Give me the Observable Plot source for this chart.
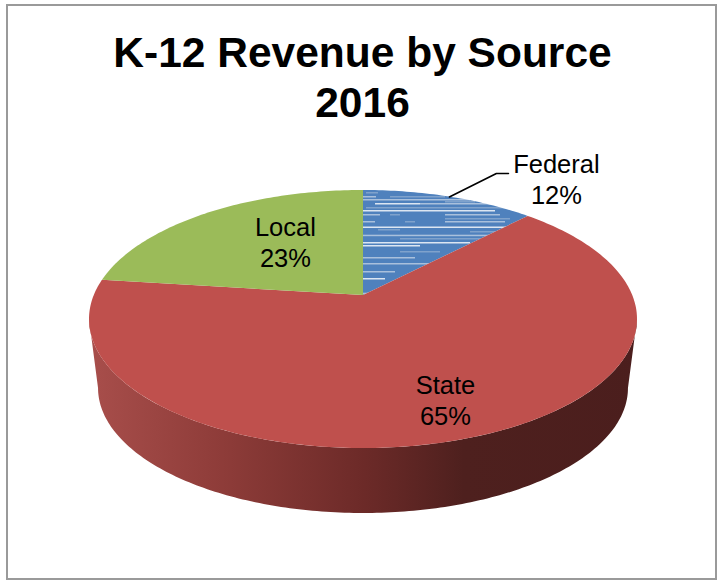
<!DOCTYPE html>
<html>
<head>
<meta charset="utf-8">
<script src="https://cdn.jsdelivr.net/npm/d3@7"></script>
<script src="https://cdn.jsdelivr.net/npm/@observablehq/plot@0.6"></script>
<style>
  html, body { margin: 0; padding: 0; background: #fff; }
  #frame { position: relative; width: 718px; height: 582px; overflow: hidden; font-family: "Liberation Sans", Arial, sans-serif; }
  #box { position: absolute; left: 6px; top: 4px; width: 707px; height: 572px; border: 2px solid #9a9a9a; pointer-events: none; }
  #title { height: 140px; box-sizing: border-box; padding-top: 28px; padding-left: 7px; text-align: center; font-weight: 700; font-size: 42.5px; line-height: 50px; color: #000; }
  #chart svg { display: block; overflow: visible; }
</style>
</head>
<body>
<div id="frame">
  <div id="title">K-12 Revenue by Source<br>2016</div>
  <div id="chart"></div>
  <div id="box"></div>
</div>
<script>
// Data
const sources = ["Federal", "State", "Local"];
const shares = [12.2, 64.8, 23];
const fills = ["url(#streaks)", "#BF504D", "#9BBB59"];

// Layout (unit ellipse coordinates)
const tilt = 0.186;          // perspective shift of the pie's apex
const wall = {rx: 0.967, ry: 0.969, dy: -0.535};
const labelAt = {Federal: [0.704, 1.093], State: [0.299, -0.62], Local: [-0.285, 0.605]};
const leaderElbows = [[0.485, 1.132], [0.529, 1.132]];

const toRad = (deg) => (deg * Math.PI) / 180;
// Perspective projection of the unit circle point at a clockwise angle from the top
function rim(deg) {
  const X = Math.sin(toRad(deg)), Y = Math.cos(toRad(deg)), w = 1 + tilt * Y;
  return [(X * Math.sqrt(1 - tilt * tilt)) / w, (Y + tilt) / w];
}

const total = d3.sum(shares);
const cumulative = d3.cumsum(shares);
const slices = sources.map((name, i) => {
  const a0 = ((cumulative[i] - shares[i]) / total) * 360;
  const a1 = (cumulative[i] / total) * 360;
  const steps = [...d3.range(a0, a1, 1), a1];
  return {
    name, share: shares[i], fill: fills[i], mid: (a0 + a1) / 2,
    rows: steps.map((a) => { const [x2, y2] = rim(a); return {x1: 0, y1: tilt, x2, y2}; })
  };
});

const wallRows = d3.range(-90, 90.5, 1).map((a) => ({
  x1: Math.sin(toRad(a)), y1: -Math.cos(toRad(a)),
  x2: wall.rx * Math.sin(toRad(a)), y2: wall.dy - wall.ry * Math.cos(toRad(a))
}));

const labels = slices.map((s) => ({text: `${s.name}\n${Math.round(s.share)}%`, x: labelAt[s.name][0], y: labelAt[s.name][1]}));
const federal = slices[0];
const leader = [rim(federal.mid), ...leaderElbows].map(([x, y]) => ({x, y}));

// Paint servers used by the marks: the wall shading and the streaked blue texture
const L = "#DCE6F2", M = "#A9C0DC", D = "#7FA2CC";
const streakTexture = [
  [52,366,378,D],[56,363,376,M],[56,390,445,D],[59,363,470,M],[61,445,475,D],[63,375,420,L],[63,420,490,M],
  [67,366,510,D],[70,363,495,L],[74,363,380,M],[74,390,400,D],[74,445,500,M],[78,445,510,D],[81,363,375,M],
  [81,405,415,D],[81,445,505,M],[86.5,363,510,L],[89,378,400,D],[91,470,495,D],[94.7,363,490,M],[98,400,480,D],
  [102,363,470,L],[105,363,420,L],[111,400,440,D],[117,363,415,M],[123,363,445,M],[131,363,395,M],[138,363,385,L],[152.7,363,372,M]
];
const paints = () => {
  const ns = "http://www.w3.org/2000/svg";
  const defs = document.createElementNS(ns, "defs");
  defs.innerHTML = `
    <linearGradient id="wallShade" gradientUnits="userSpaceOnUse" x1="90" x2="640" y1="0" y2="0">
      <stop offset="0" stop-color="#A84E4B"/>
      <stop offset="0.24" stop-color="#8E3C39"/>
      <stop offset="0.5" stop-color="#6C2A28"/>
      <stop offset="0.68" stop-color="#4E201E"/>
      <stop offset="1" stop-color="#4B1E1D"/>
    </linearGradient>
    <pattern id="streaks" patternUnits="userSpaceOnUse" x="0" y="0" width="718" height="442">
      <rect width="718" height="442" fill="#4F81BD"/>
      ${streakTexture.map(([y, x0, x1, c]) => `<rect x="${x0}" y="${y}" width="${x1 - x0}" height="1.5" fill="${c}"/>`).join("")}
    </pattern>`;
  return defs;
};

const chart = Plot.plot({
  width: 718,
  height: 442,
  margin: 0,
  x: {domain: [-1, 1], range: [89, 637], axis: null},
  y: {domain: [-1, 1], range: [308, 50], axis: null},
  marks: [
    paints,
    Plot.area(wallRows, {x1: "x1", y1: "y1", x2: "x2", y2: "y2", fill: "url(#wallShade)"}),
    ...slices.map((s) => Plot.area(s.rows, {x1: "x1", y1: "y1", x2: "x2", y2: "y2", fill: s.fill})),
    Plot.line(leader, {x: "x", y: "y", stroke: "#000", strokeWidth: 1.6, curve: "linear"}),
    Plot.text(labels, {x: "x", y: "y", text: "text", fontSize: 25.5, lineHeight: 1.2, fill: "#000", fontFamily: "Liberation Sans, Arial, sans-serif"})
  ]
});
document.getElementById("chart").append(chart);
</script>
</body>
</html>
